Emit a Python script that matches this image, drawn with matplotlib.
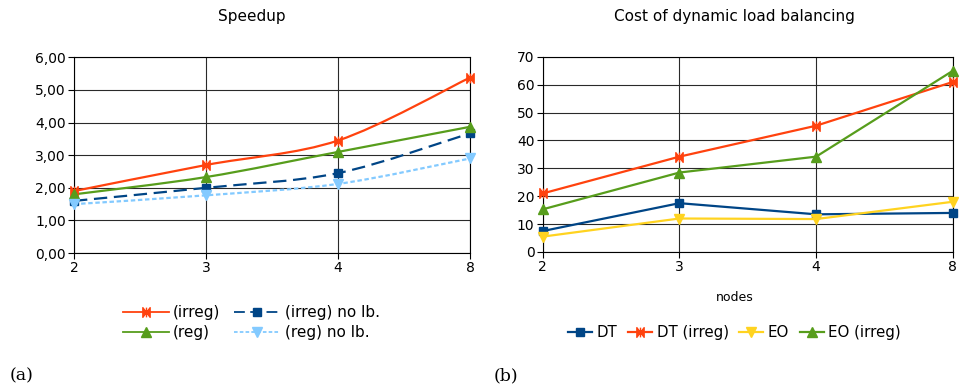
import numpy as np
import matplotlib
matplotlib.use("Agg")
import matplotlib.pyplot as plt
from matplotlib.path import Path
from matplotlib.patches import PathPatch
from matplotlib.lines import Line2D

# data
nodes = ['2', '3', '4', '8']

speed_irreg = [1.90, 2.70, 3.45, 5.38]
speed_irreg_nolb = [1.60, 2.00, 2.45, 3.67]
speed_reg = [1.80, 2.33, 3.10, 3.87]
speed_reg_nolb = [1.50, 1.77, 2.12, 2.90]

cost_dt = [7.5, 17.5, 13.5, 14.0]
cost_dt_irreg = [21.0, 34.2, 45.3, 61.0]
cost_eo = [5.5, 12.0, 11.8, 18.0]
cost_eo_irreg = [15.3, 28.5, 34.2, 65.0]

RED = '#ff420e'
BLUE = '#004586'
GREEN = '#579d1c'
YELLOW = '#ffd320'
LBLUE = '#83caff'

# bowtie marker with a bar in the middle
w = 0.75
bowtie = Path([(-w, -1), (-w, 1), (0, 0), (-w, -1),
               (w, -1), (w, 1), (0, 0), (w, -1),
               (0, -1), (0, 1)],
              [Path.MOVETO, Path.LINETO, Path.LINETO, Path.CLOSEPOLY,
               Path.MOVETO, Path.LINETO, Path.LINETO, Path.CLOSEPOLY,
               Path.MOVETO, Path.LINETO])


def smooth_path(xs, ys, t=0.16):
    # cubic bezier through the points (catmull-rom style tangents)
    pts = np.column_stack([xs, ys]).astype(float)
    verts = [tuple(pts[0])]
    codes = [Path.MOVETO]
    n = len(pts)
    for i in range(n - 1):
        p0 = pts[max(i - 1, 0)]
        p1 = pts[i]
        p2 = pts[i + 1]
        p3 = pts[min(i + 2, n - 1)]
        c1 = p1 + (p2 - p0) * t
        c2 = p2 - (p3 - p1) * t
        verts += [tuple(c1), tuple(c2), tuple(p2)]
        codes += [Path.CURVE4] * 3
    return Path(verts, codes)


def style_axes(ax, ymax, ystep, fmt):
    ax.set_xlim(0, 3)
    ax.set_ylim(0, ymax)
    ax.set_xticks(range(4))
    ax.set_xticklabels(nodes)
    yt = np.arange(0, ymax + 0.001, ystep)
    ax.set_yticks(yt)
    ax.set_yticklabels([fmt(v) for v in yt])
    ax.grid(True, color='#2a2a2a', linewidth=0.8)
    ax.set_axisbelow(True)
    for s in ax.spines.values():
        s.set_color('black')
        s.set_linewidth(0.8)
    ax.tick_params(labelsize=10, length=4, width=0.8, pad=2)


fig = plt.figure(figsize=(9.59, 3.87), dpi=100)

# (a) speedup
ax1 = fig.add_axes([0.0772, 0.346, 0.413, 0.506])
style_axes(ax1, 6, 1, lambda v: f'{v:.2f}'.replace('.', ','))
x = np.arange(len(nodes))

series_a = [
    (speed_irreg, RED, '-', bowtie, '(irreg)', 7),
    (speed_irreg_nolb, BLUE, (0, (6, 3)), 's', '(irreg) no lb.', 6),
    (speed_reg, GREEN, '-', '^', '(reg)', 7),
    (speed_reg_nolb, LBLUE, (0, (2, 1.2)), 'v', '(reg) no lb.', 7),
]
handles = {}
for ys, col, ls, mk, lab, ms in series_a:
    patch = PathPatch(smooth_path(x, ys), facecolor='none', edgecolor=col,
                      linewidth=1.6, linestyle=ls, clip_on=False, zorder=3)
    ax1.add_patch(patch)
    ax1.plot(x, ys, linestyle='none', marker=mk, color=col, markersize=ms,
             markeredgewidth=1.0, clip_on=False, zorder=4)
    handles[lab] = Line2D([], [], color=col, linestyle=ls, linewidth=1.3,
                          marker=mk, markersize=ms, markeredgewidth=1.0)

order = ['(irreg)', '(reg)', '(irreg) no lb.', '(reg) no lb.']
fig.legend([handles[k] for k in order], order, ncol=2, loc='center',
           bbox_to_anchor=(0.262, 0.166), frameon=False,
           fontsize=11, handlelength=3.0, handletextpad=0.3,
           columnspacing=0.9, labelspacing=0.35)

fig.text(0.263, 0.957, 'Speedup', ha='center', va='center', fontsize=11)

# (b) cost of dynamic load balancing
ax2 = fig.add_axes([0.566, 0.349, 0.4275, 0.504])
style_axes(ax2, 70, 10, lambda v: f'{v:.0f}')

series_b = [
    (cost_dt, BLUE, 's', 'DT', 6),
    (cost_dt_irreg, RED, bowtie, 'DT (irreg)', 7),
    (cost_eo, YELLOW, 'v', 'EO', 7),
    (cost_eo_irreg, GREEN, '^', 'EO (irreg)', 7),
]
for ys, col, mk, lab, ms in series_b:
    ax2.plot(x, ys, color=col, linewidth=1.6, marker=mk, markersize=ms,
             markeredgewidth=1.0, label=lab, clip_on=False, zorder=3)

ax2.legend(ncol=4, loc='center', bbox_to_anchor=(0.766, 0.140),
           bbox_transform=fig.transFigure, frameon=False, fontsize=10.8,
           handlelength=1.6, handletextpad=0.3, columnspacing=0.7)

fig.text(0.766, 0.232, 'nodes', ha='center', va='center', fontsize=9)
fig.text(0.766, 0.957, 'Cost of dynamic load balancing', ha='center',
         va='center', fontsize=11)

# panel labels
fig.text(0.010, 0.030, '(a)', fontsize=12.5, family='DejaVu Serif', va='center')
fig.text(0.515, 0.030, '(b)', fontsize=12.5, family='DejaVu Serif', va='center')

fig.savefig('out.png', dpi=100)
